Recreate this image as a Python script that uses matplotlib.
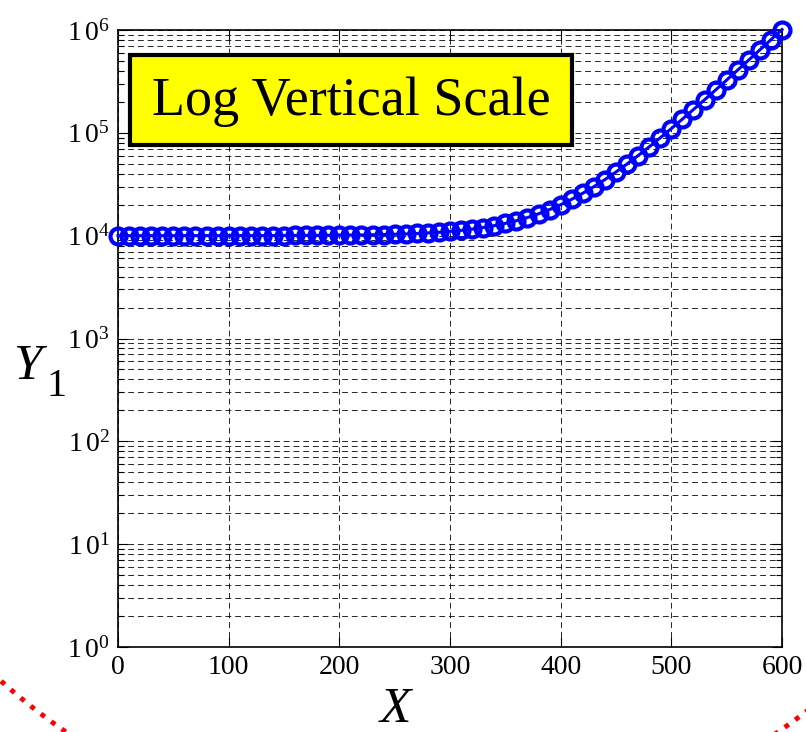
import matplotlib
matplotlib.use("Agg")
import matplotlib.pyplot as plt
from matplotlib.patches import Rectangle, Ellipse
from matplotlib.ticker import LogLocator

plt.rcParams['font.family'] = ['Liberation Serif', 'DejaVu Serif']
plt.rcParams['mathtext.fontset'] = 'custom'
plt.rcParams['mathtext.rm'] = 'Liberation Serif'
plt.rcParams['mathtext.it'] = 'Liberation Serif:italic'
plt.rcParams['mathtext.bf'] = 'Liberation Serif:bold'

x_values = list(range(0, 601, 10))
y_values = [
    10001, 10001, 10002, 10002, 10003, 10003, 10004, 10005, 10006, 10008,
    10010, 10013, 10016, 10020, 10025, 10032, 10040, 10050, 10063, 10079,
    10100, 10126, 10158, 10200, 10251, 10316, 10398, 10501, 10631, 10794,
    11000, 11259, 11585, 11995, 12512, 13162, 13981, 15012, 16310, 17943,
    20000, 22589, 25849, 29953, 35119, 41623, 49811, 60119, 73096, 89433,
    110000, 135893, 168489, 209526, 261189, 326228, 408107, 511187, 640957, 804328,
    1010000,
]
x_ticks = [0, 100, 200, 300, 400, 500, 600]
y_ticks = [1, 10, 100, 1000, 10000, 100000, 1000000]
y_tick_labels = [r'$1\,0^{0}$', r'$1\,0^{1}$', r'$1\,0^{2}$', r'$1\,0^{3}$',
                 r'$1\,0^{4}$', r'$1\,0^{5}$', r'$1\,0^{6}$']
title_text = "Log Vertical Scale"

W, H = 806, 732
fig = plt.figure(figsize=(W / 100, H / 100), dpi=100)
ax = fig.add_axes([118 / W, (H - 647) / H, 664 / W, 617 / H])

ax.plot(x_values, y_values, color='#0000ff', linewidth=2.2, marker='o',
        markersize=11.5, markerfacecolor='none', markeredgecolor='#0000ff',
        markeredgewidth=3, zorder=5, clip_on=False)

ax.set_yscale('log')
ax.set_xlim(0, 600)
ax.set_ylim(1, 1e6)
ax.set_xticks(x_ticks)
ax.set_xticklabels([str(t) for t in x_ticks])
ax.set_yticks(y_ticks)
ax.set_yticklabels(y_tick_labels)
ax.yaxis.set_minor_locator(LogLocator(base=10, subs=range(2, 10), numticks=20))
ax.yaxis.set_minor_formatter(plt.NullFormatter())

ax.tick_params(axis='both', which='major', direction='in', length=7, width=0.8,
               labelsize=20, top=True, right=True, pad=6)
ax.tick_params(axis='y', which='minor', direction='in', length=4, width=0.8,
               right=True, left=True)

grid_kw = dict(color='black', linestyle=(0, (6, 4)), linewidth=0.7, alpha=0.85)
ax.grid(True, which='major', axis='both', **grid_kw)
ax.grid(True, which='minor', axis='y', **grid_kw)
ax.set_axisbelow(True)

for s in ax.spines.values():
    s.set_linewidth(1.2)
    s.set_color('black')

# axis labels placed as in the reference
fig.text(395 / W, 1 - 710 / H, 'X', fontsize=37, style='italic',
         ha='center', va='center')
fig.text(27 / W, 1 - 367 / H, 'Y', fontsize=37, style='italic',
         ha='center', va='center')
fig.text(47 / W, 1 - 386 / H, '1', fontsize=29, ha='left', va='center')

rect = Rectangle((0.018, 0.8136), 0.666, 0.146, transform=ax.transAxes,
                 facecolor='#ffff00', edgecolor='black', linewidth=3, zorder=6)
ax.add_patch(rect)
ax.text(0.351, 0.884, title_text, transform=ax.transAxes, fontsize=39,
        ha='center', va='center', zorder=7)

R = 631
circ = Ellipse((422 / W, 1 - 211 / H), 2 * R / W, 2 * R / H,
               transform=fig.transFigure, facecolor='none', edgecolor='red',
               linewidth=3.5, linestyle=':', clip_on=False, zorder=0)
fig.add_artist(circ)

fig.savefig('out.png', dpi=100)
